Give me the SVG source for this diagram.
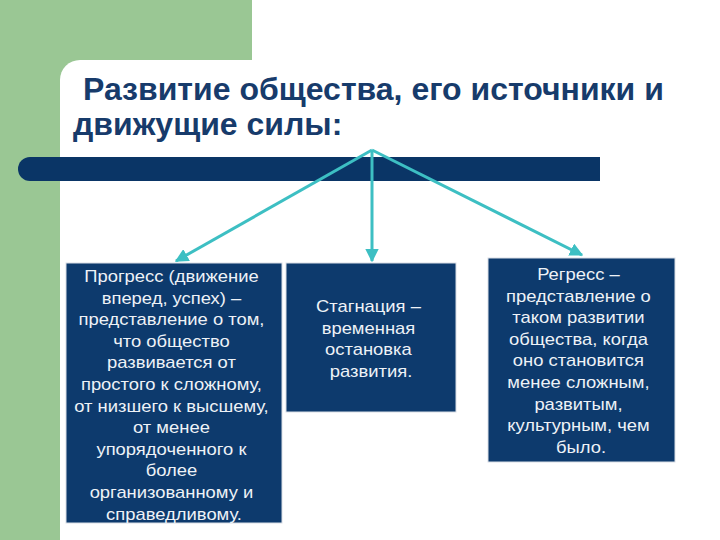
<svg xmlns="http://www.w3.org/2000/svg" width="720" height="540" viewBox="0 0 720 540">
<defs>
<style>
.title{font-family:"Liberation Sans",Arial,sans-serif;font-weight:bold;font-size:32px;fill:#173b6b}
.box{fill:#0d3a6d;stroke:#d9dee6;stroke-width:1}
.bt{font-family:"Liberation Sans",Arial,sans-serif;font-size:16px;fill:#eef2f7;text-anchor:middle}
.conn{stroke:#3dbfc3;stroke-width:3;fill:none}
</style>
<marker id="ah" viewBox="0 0 10 10" refX="9" refY="5" markerWidth="4.5" markerHeight="4.5" orient="auto" markerUnits="strokeWidth">
<path d="M0,0 L10,5 L0,10 z" fill="#3dbfc3"/>
</marker>
</defs>
<rect width="720" height="540" fill="#ffffff"/>
<rect x="0" y="0" width="252" height="80" fill="#9ac794"/>
<rect x="0" y="0" width="60" height="540" fill="#9ac794"/>
<rect x="60" y="60" width="700" height="520" rx="20" fill="#ffffff"/>
<g id="title">
<text class="title" x="83" y="100">Развитие общества, его источники и</text>
<text class="title" x="73" y="135">движущие силы:</text>
</g>
<g id="bar">
<path d="M30,157 H600 V181 H30 A12,12 0 0 1 30,157 z" fill="#0a3566"/>
</g>
<g id="connectors">
<line class="conn" x1="372" y1="150" x2="176" y2="261" marker-end="url(#ah)"/>
<line class="conn" x1="372" y1="150" x2="372" y2="261" marker-end="url(#ah)"/>
<line class="conn" x1="372" y1="150" x2="582" y2="255" marker-end="url(#ah)"/>
</g>
<g id="progress">
<rect class="box" x="66" y="263" width="216" height="260"/>
<text class="bt" transform="translate(174,0) scale(1.15,1)">
<tspan x="0" y="282">Прогресс (движение</tspan>
<tspan x="0" y="303.6">вперед, успех) –</tspan>
<tspan x="0" y="325.2">представление о том,</tspan>
<tspan x="0" y="346.8">что общество</tspan>
<tspan x="0" y="368.4">развивается от</tspan>
<tspan x="0" y="390">простого к сложному,</tspan>
<tspan x="0" y="411.6">от низшего к высшему,</tspan>
<tspan x="0" y="433.2">от менее</tspan>
<tspan x="0" y="454.8">упорядоченного к</tspan>
<tspan x="0" y="476.4">более</tspan>
<tspan x="0" y="498">организованному и</tspan>
<tspan x="0" y="519.6">справедливому.</tspan>
</text>
</g>
<g id="stagnation">
<rect class="box" x="286" y="263" width="170" height="149"/>
<text class="bt" transform="translate(371,0) scale(1.15,1)">
<tspan x="0" y="312">Стагнация –</tspan>
<tspan x="0" y="333.6">временная</tspan>
<tspan x="0" y="355.2">остановка</tspan>
<tspan x="0" y="376.8">развития.</tspan>
</text>
</g>
<g id="regress">
<rect class="box" x="488" y="258" width="187" height="204"/>
<text class="bt" transform="translate(581,0) scale(1.15,1)">
<tspan x="0" y="280">Регресс –</tspan>
<tspan x="0" y="301.6">представление о</tspan>
<tspan x="0" y="323.2">таком развитии</tspan>
<tspan x="0" y="344.8">общества, когда</tspan>
<tspan x="0" y="366.4">оно становится</tspan>
<tspan x="0" y="388">менее сложным,</tspan>
<tspan x="0" y="409.6">развитым,</tspan>
<tspan x="0" y="431.2">культурным, чем</tspan>
<tspan x="0" y="452.8">было.</tspan>
</text>
</g>
</svg>
